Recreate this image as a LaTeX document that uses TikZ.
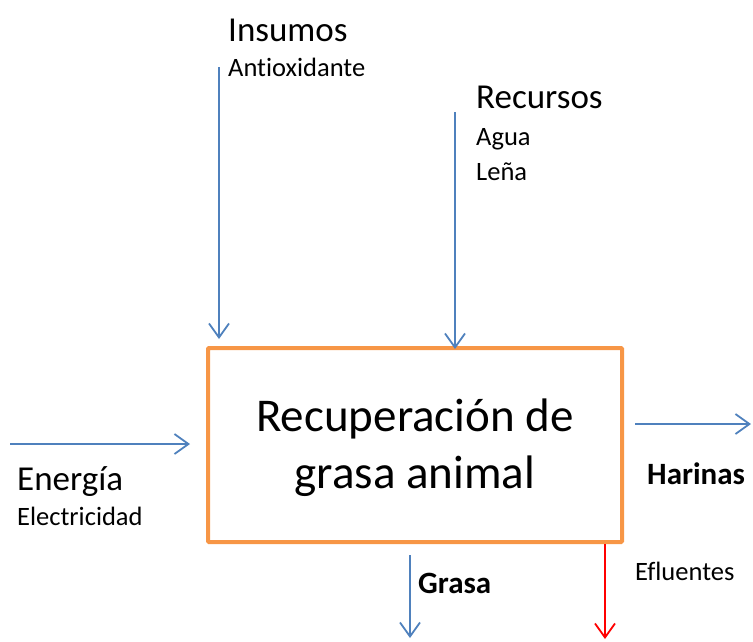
\documentclass[tikz,border=0pt]{standalone}
\usepackage{fontspec}
\setmainfont[Ligatures = NoCommon]{Carlito}
\usetikzlibrary{arrows.meta}

\definecolor{flowblue}{RGB}{79,129,189}
\definecolor{boxorange}{RGB}{247,150,70}

\tikzset{
  flow/.style = {draw = flowblue, line width = 1.8pt, -{Straight Barb[length = 14pt, width = 20pt]}},
  waste/.style = {flow, draw = red},
  procbox/.style = {draw = boxorange, line width = 4pt, rounded corners = 1pt,
    minimum width = 414pt, minimum height = 194pt, inner sep = 0pt},
  bigtext/.style = {anchor = base west, inner sep = 0pt, font = \fontsize{35}{42}\selectfont},
  smalltext/.style = {anchor = base west, inner sep = 0pt, font = \fontsize{26.5}{32}\selectfont},
  boldtext/.style = {anchor = base west, inner sep = 0pt, font = \fontsize{31}{37}\selectfont\bfseries}
}

\begin{document}
\begin{tikzpicture}[x = 1pt, y = -1pt]
\useasboundingbox (0,0) rectangle (753,641);

% process box
\node[procbox] (proc) at (415,445) {};
\node[align = center, inner sep = 0pt, font = \fontsize{47}{57}\selectfont] (procname) at (415,448)
  {Recuperación de\\grasa animal};

% labels
\node[bigtext] (insumos) at (228,41) {Insumos};
\node[smalltext] (antiox) at (228,76) {Antioxidante};
\node[bigtext] (recursos) at (476,108) {Recursos};
\node[smalltext] (agua) at (476,145) {Agua};
\node[smalltext] (lena) at (476,180) {Leña};
\node[bigtext] (energia) at (17,490) {Energía};
\node[smalltext] (electr) at (17,525) {Electricidad};
\node[boldtext] (harinas) at (647,484) {Harinas};
\node[boldtext] (grasa) at (418,593) {Grasa};
\node[smalltext] (efluentes) at (635,580) {Efluentes};

% arrow ends
\coordinate (insA) at (219,67);
\coordinate (insB) at (219,339);
\coordinate (recA) at (455,112);
\coordinate (recB) at (455,349);
\coordinate (eneA) at (10,444);
\coordinate (eneB) at (190,444);
\coordinate (harA) at (635,424);
\coordinate (harB) at (751,424);
\coordinate (graA) at (410,555);
\coordinate (graB) at (410,638);
\coordinate (eflA) at (605,544);
\coordinate (eflB) at (605,639);

\draw[flow] (insA) -- (insB);
\draw[flow] (recA) -- (recB);
\draw[flow] (eneA) -- (eneB);
\draw[flow] (harA) -- (harB);
\draw[flow] (graA) -- (graB);
\draw[waste] (eflA) -- (eflB);
\end{tikzpicture}
\end{document}
